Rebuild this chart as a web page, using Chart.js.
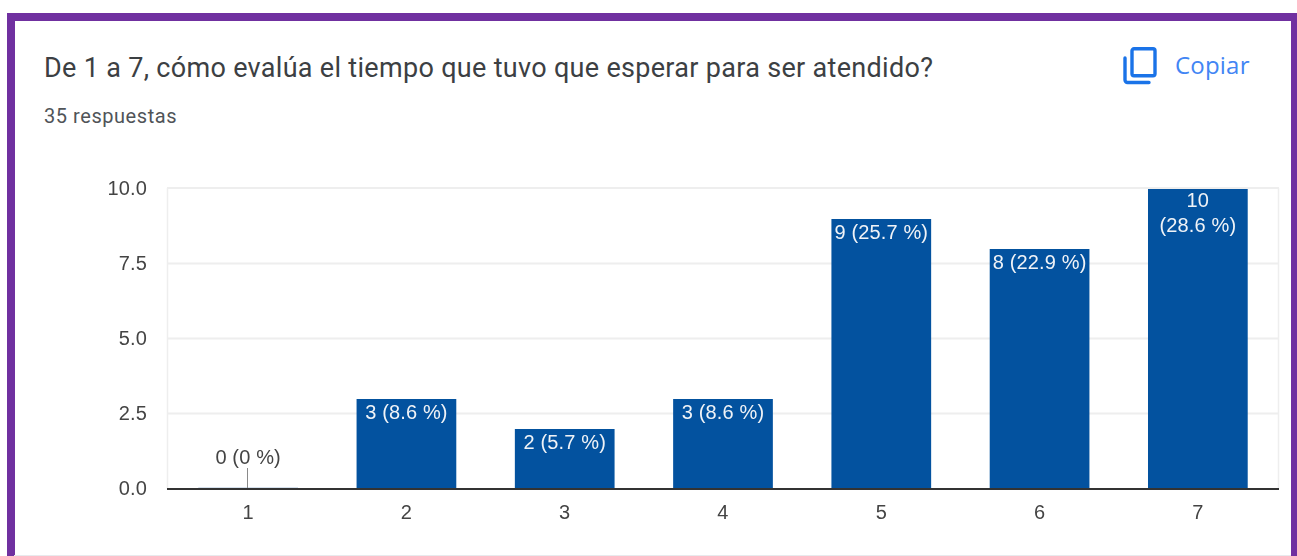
<!DOCTYPE html>
<html><head><meta charset="utf-8">
<script src="https://cdn.jsdelivr.net/npm/chart.js@4"></script>
<style>
html,body{margin:0;padding:0;background:#fff;overflow:hidden}
#wrap{position:relative;width:1297px;height:556px;overflow:hidden}
#frame{position:absolute;left:7px;top:13px;height:543px;border:solid #7030a0;border-width:8px 6px 0 8px;box-sizing:border-box;width:1290px}
#title,#sub,#copy{position:absolute;font-family:Roboto,sans-serif;white-space:nowrap}
#title{left:44px;top:52px;font-size:27px;line-height:32px;color:#3c4043;letter-spacing:.31px}
#sub{left:44px;top:104px;font-size:20px;line-height:24px;color:#505458;letter-spacing:.55px}
#copy{left:1175px;top:50px;font-size:24px;line-height:30px;color:#4285f4;font-family:"Open Sans",Roboto,sans-serif;letter-spacing:.2px}
svg{position:absolute;left:1123px;top:47px}
canvas{position:absolute;left:0;top:0}
#bot{position:absolute;left:14px;right:6px;top:555px;height:1px;background:#e8eaed}
</style></head><body>
<div id="wrap">
<div id="frame"></div><div id="bot"></div>
<div id="title">De 1 a 7, cómo evalúa el tiempo que tuvo que esperar para ser atendido?</div>
<div id="sub">35 respuestas</div>
<svg width="34" height="38" viewBox="0 0 34 38" fill="none" stroke="#1a73e8" stroke-width="3.4" stroke-linejoin="round" stroke-linecap="round"><rect x="9" y="1.8" width="23" height="27" rx="2"/><path d="M2 11V33a2.500 2.500 0 0 0 2.500 2.500H26"/></svg>
<div id="copy">Copiar</div>
<canvas id="c" width="1297" height="556"></canvas>
</div>
<script>
const categories=["1","2","3","4","5","6","7"];
const counts=[0,3,2,3,9,8,10];
const valueLabels=[["0 (0 %)"],["3 (8.6 %)"],["2 (5.7 %)"],["3 (8.6 %)"],["9 (25.7 %)"],["8 (22.9 %)"],["10","(28.6 %)"]];
const yTicks=[0,2.5,5,7.5,10];
const FONT='20px "Liberation Sans"';
const frameAndLabels={
 id:'frameAndLabels',
 beforeDraw(ch){ch.ctx.letterSpacing='0.15px';},
 beforeDatasetsDraw(ch){
  const {ctx,chartArea:a,scales:{y}}=ch;
  ctx.save();ctx.strokeStyle='#eeeeee';ctx.lineWidth=2;
  yTicks.filter(t=>t>0).forEach(t=>{const p=y.getPixelForValue(t)-(t===10?1:0.5);ctx.beginPath();ctx.moveTo(a.left-2,p);ctx.lineTo(a.right+2,p);ctx.stroke();});
  ctx.lineWidth=1.500;
  [a.left-1.500,a.right+1.500].forEach(x=>{ctx.beginPath();ctx.moveTo(x,a.top-1);ctx.lineTo(x,a.bottom);ctx.stroke();});
  ctx.restore();
 },
 afterDatasetsDraw(ch){
  const {ctx,chartArea:a,scales:{y}}=ch;
  const els=ch.getDatasetMeta(0).data;
  ctx.save();ctx.font=FONT;ctx.textAlign='center';ctx.textBaseline='middle';
  els.forEach((e,i)=>{
   const lines=valueLabels[i],w=e.width;
   if(counts[i]===0){
    ctx.fillStyle='#d5e0ec';ctx.fillRect(e.x-w/2,y.bottom-2,w,2);
    ctx.strokeStyle='#8a8a8a';ctx.lineWidth=1;ctx.beginPath();ctx.moveTo(Math.round(e.x)-.5,y.bottom-21);ctx.lineTo(Math.round(e.x)-.5,y.bottom);ctx.stroke();
    ctx.fillStyle='#444444';ctx.fillText(lines[0],e.x,y.bottom-31);
   }else{
    ctx.fillStyle='#f0f3f7';
    const off=lines.length>1?12.5:14;
    lines.forEach((l,k)=>ctx.fillText(l,e.x,e.y+off+k*25));
   }
  });
  ctx.strokeStyle='#333333';ctx.lineWidth=2;ctx.beginPath();ctx.moveTo(a.left-2,y.bottom);ctx.lineTo(a.right+2,y.bottom);ctx.stroke();
  ctx.restore();
 }
};
new Chart(document.getElementById('c'),{
 type:'bar',
 data:{labels:categories,datasets:[{data:counts,backgroundColor:'#03529f',barPercentage:1,categoryPercentage:0.63}]},
 plugins:[frameAndLabels],
 options:{
  responsive:false,animation:false,
  layout:{padding:{left:0,right:20,top:189,bottom:0}},
  plugins:{legend:{display:false},tooltip:{enabled:false}},
  scales:{
   x:{grid:{display:false},border:{display:false},afterFit(s){s.height=67},
      ticks:{color:'#444444',font:{family:'Liberation Sans',size:20},padding:4,maxRotation:0}},
   y:{position:'left',min:0,max:10,afterFit(s){s.width=169},
      afterBuildTicks(s){s.ticks=yTicks.map(v=>({value:v}))},
      grid:{display:false,drawTicks:false},border:{display:false},
      ticks:{color:'#444444',font:{family:'Liberation Sans',size:20},padding:22,callback:v=>v.toFixed(1)}}
  }
 }
});
</script></body></html>
